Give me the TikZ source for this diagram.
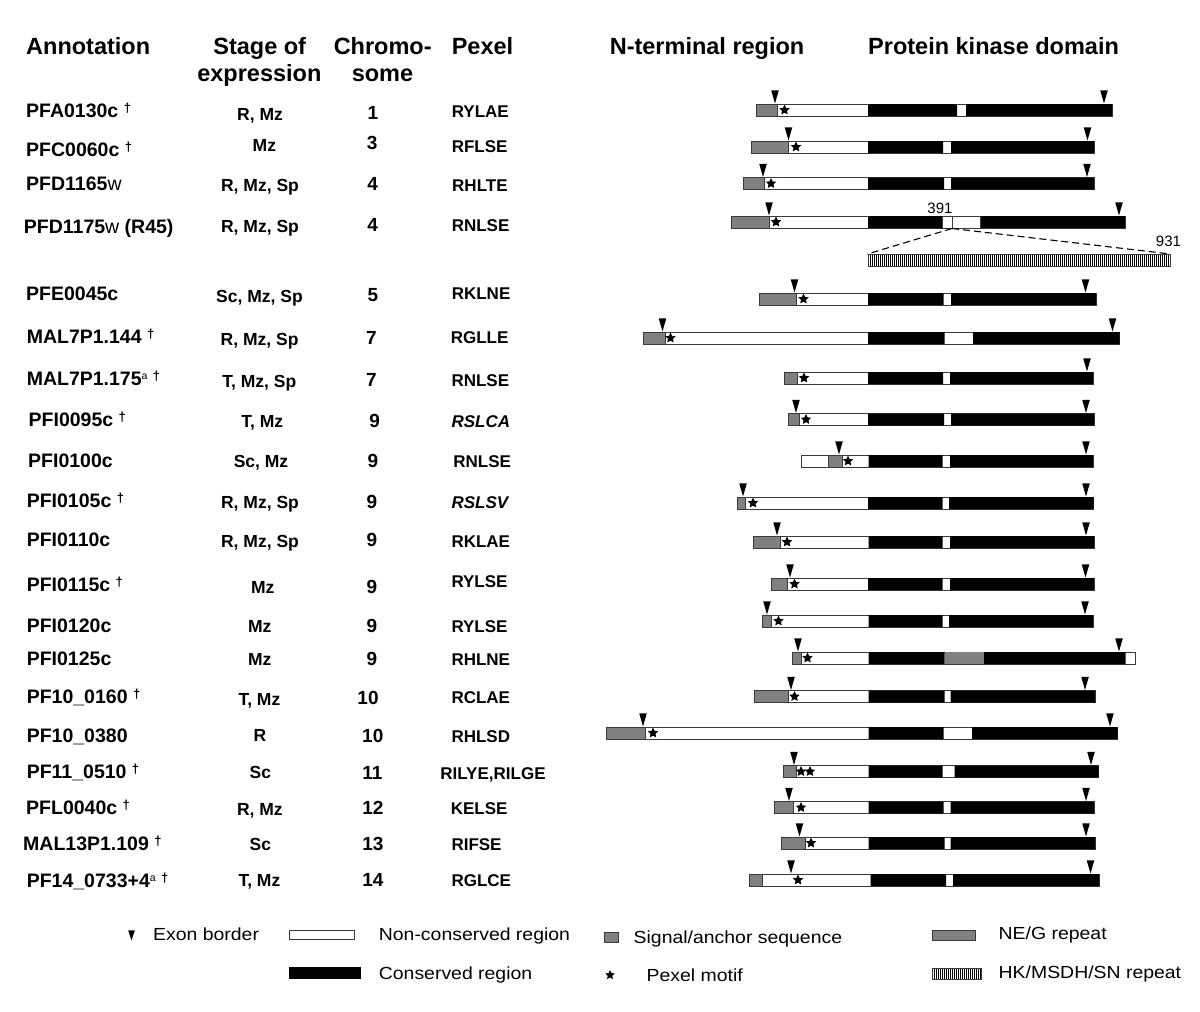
\documentclass[tikz,border=0pt]{standalone}
\usepackage{fontspec}
\setmainfont{Liberation Sans}
\newfontfamily\lgfont[FakeStretch=1.11]{Liberation Sans}
\usetikzlibrary{shapes.geometric,patterns.meta}
\definecolor{SigGray}{HTML}{808080}
\definecolor{EdgeGray}{HTML}{3A3A3A}
\newcommand{\dagmark}{\raisebox{5pt}{\fontsize{13}{13}\selectfont\textdagger}}
\newcommand{\supa}{\raisebox{6pt}{\fontsize{10.5}{11}\selectfont\mdseries a}}

\begin{document}
\begin{tikzpicture}[x=1pt, y=-1pt,
        hdr/.style={inner sep=0pt, anchor=base west, font=\bfseries\fontsize{23.5}{27}\selectfont},
        ann/.style={inner sep=0pt, anchor=base west, font=\bfseries\fontsize{19.5}{21}\selectfont},
        stg/.style={inner sep=0pt, anchor=base, font=\bfseries\fontsize{17.5}{19}\selectfont},
        chr/.style={inner sep=0pt, anchor=base, font=\bfseries\fontsize{19}{21}\selectfont},
        pex/.style={inner sep=0pt, anchor=base west, font=\bfseries\fontsize{17}{19}\selectfont},
        lgd/.style={inner sep=0pt, anchor=base west, font=\lgfont\fontsize{17.5}{19}\selectfont},
        num/.style={inner sep=0pt, anchor=base, font=\fontsize{15}{16}\selectfont},
        bar/.style={draw=EdgeGray, line width=1pt, fill=white},
        sig/.style={draw=EdgeGray, line width=1pt, fill=SigGray},
        neg/.style={fill=SigGray},
        hk/.style={draw=EdgeGray, line width=1pt, pattern={Lines[angle=90,distance=2pt,line width=1pt]}},
        exon/.style={isosceles triangle, isosceles triangle stretches, shape border rotate=-90,
            minimum width=7.5pt, minimum height=13pt, inner sep=0pt, fill=black, anchor=apex},
        motif/.style={star, star points=5, star point ratio=2.1, minimum size=11pt, inner sep=0pt, fill=black}]
        \path[fill=white, use as bounding box] (0,0) rectangle (1200,1012);

        \node[hdr] (hAnn) at (26,54.5) {Annotation};
        \node[hdr, anchor=base] (hStg) at (259.7,54.5) {Stage of};
        \node[hdr, anchor=base] (hStg2) at (259.4,81.5) {expression};
        \node[hdr, anchor=base] (hChr) at (382.7,54.5) {Chromo-};
        \node[hdr, anchor=base] (hChr2) at (382.5,81.5) {some};
        \node[hdr] (hPex) at (451.6,54.5) {Pexel};
        \node[hdr] (hNt) at (609.6,54.5) {N-terminal region};
        \node[hdr] (hPk) at (868,54.5) {Protein kinase domain};

        \node[ann] (an1) at (26,117.3) {PFA0130c \dagmark};
        \node[ann] (an2) at (26,156) {PFC0060c \dagmark};
        \node[ann] (an3) at (26,190.7) {PFD1165{\mdseries w}};
        \node[ann] (an4) at (23.7,233) {PFD1175{\mdseries w} (R45)};
        \node[ann] (an5) at (26,300.3) {PFE0045c};
        \node[ann] (an6) at (26.6,343.7) {MAL7P1.144 \dagmark};
        \node[ann] (an7) at (26.6,385.5) {MAL7P1.175\supa{} \dagmark};
        \node[ann] (an8) at (28.5,426.5) {PFI0095c \dagmark};
        \node[ann] (an9) at (28,467) {PFI0100c};
        \node[ann] (an10) at (26.6,507.5) {PFI0105c \dagmark};
        \node[ann] (an11) at (26.6,546.7) {PFI0110c};
        \node[ann] (an12) at (26.6,591) {PFI0115c \dagmark};
        \node[ann] (an13) at (26.6,632) {PFI0120c};
        \node[ann] (an14) at (26.6,665.7) {PFI0125c};
        \node[ann] (an15) at (26.6,703.7) {PF10\_0160 \dagmark};
        \node[ann] (an16) at (26.6,742.5) {PF10\_0380};
        \node[ann] (an17) at (26.6,778.7) {PF11\_0510 \dagmark};
        \node[ann] (an18) at (26,814) {PFL0040c \dagmark};
        \node[ann] (an19) at (23,850.3) {MAL13P1.109 \dagmark};
        \node[ann] (an20) at (26.6,887) {PF14\_0733+4\supa{} \dagmark};

        \node[stg] (st1) at (260,120) {R, Mz};
        \node[stg] (st2) at (264.4,151.3) {Mz};
        \node[stg] (st3) at (260,191.8) {R, Mz, Sp};
        \node[stg] (st4) at (260,232) {R, Mz, Sp};
        \node[stg] (st5) at (259.5,302.3) {Sc, Mz, Sp};
        \node[stg] (st6) at (259.6,345.3) {R, Mz, Sp};
        \node[stg] (st7) at (259.4,387) {T, Mz, Sp};
        \node[stg] (st8) at (262.3,427.6) {T, Mz};
        \node[stg] (st9) at (261,467.6) {Sc, Mz};
        \node[stg] (st10) at (260,508.8) {R, Mz, Sp};
        \node[stg] (st11) at (260,547.8) {R, Mz, Sp};
        \node[stg] (st12) at (262.7,593.3) {Mz};
        \node[stg] (st13) at (259.7,632.3) {Mz};
        \node[stg] (st14) at (259.7,665.8) {Mz};
        \node[stg] (st15) at (259.4,705) {T, Mz};
        \node[stg] (st16) at (260,741.8) {R};
        \node[stg] (st17) at (260.3,778.6) {Sc};
        \node[stg] (st18) at (259.9,815) {R, Mz};
        \node[stg] (st19) at (260.3,850.3) {Sc};
        \node[stg] (st20) at (259.4,886.8) {T, Mz};

        \node[chr] (ch1) at (373,119) {1};
        \node[chr] (ch2) at (372.2,149.8) {3};
        \node[chr] (ch3) at (372.7,190.7) {4};
        \node[chr] (ch4) at (372.7,231.8) {4};
        \node[chr] (ch5) at (372.8,301) {5};
        \node[chr] (ch6) at (371.4,344.5) {7};
        \node[chr] (ch7) at (371.4,386.7) {7};
        \node[chr] (ch8) at (374.6,427.3) {9};
        \node[chr] (ch9) at (373,467) {9};
        \node[chr] (ch10) at (371.9,508.3) {9};
        \node[chr] (ch11) at (371.9,546.7) {9};
        \node[chr] (ch12) at (371.9,593.3) {9};
        \node[chr] (ch13) at (371.9,632.3) {9};
        \node[chr] (ch14) at (371.9,665.7) {9};
        \node[chr] (ch15) at (368,704.8) {10};
        \node[chr] (ch16) at (372.8,742.5) {10};
        \node[chr] (ch17) at (372.5,779) {11};
        \node[chr] (ch18) at (372.9,814.8) {12};
        \node[chr] (ch19) at (372.9,850.7) {13};
        \node[chr] (ch20) at (372.9,886.7) {14};

        \node[pex] (px1) at (451.6,117.3) {RYLAE};
        \node[pex] (px2) at (451.6,152) {RFLSE};
        \node[pex] (px3) at (452,191.3) {RHLTE};
        \node[pex] (px4) at (451.6,231) {RNLSE};
        \node[pex] (px5) at (451.6,299.6) {RKLNE};
        \node[pex] (px6) at (450.6,343.8) {RGLLE};
        \node[pex] (px7) at (451.3,386.6) {RNLSE};
        \node[pex] (px8) at (451.3,427.6) {\itshape RSLCA};
        \node[pex] (px9) at (453.2,467.6) {RNLSE};
        \node[pex] (px10) at (451.3,508.3) {\itshape RSLSV};
        \node[pex] (px11) at (451.3,547) {RKLAE};
        \node[pex] (px12) at (451.3,587) {RYLSE};
        \node[pex] (px13) at (451.3,632.3) {RYLSE};
        \node[pex] (px14) at (451.3,665.3) {RHLNE};
        \node[pex] (px15) at (451.3,703.6) {RCLAE};
        \node[pex] (px16) at (451.3,742) {RHLSD};
        \node[pex] (px17) at (440.2,779) {RILYE,RILGE};
        \node[pex] (px18) at (450.6,814.6) {KELSE};
        \node[pex] (px19) at (451.3,850.3) {RIFSE};
        \node[pex] (px20) at (451.3,886.8) {RGLCE};

        \draw[bar] (756,104) rectangle (1112,116);
        \draw[sig] (756,104) rectangle (777.5,116);
        \fill (868,104) rectangle (957,116) (966,104) rectangle (1112,116);
        \node[exon] (x1a) at (775,104) {}; \node[exon] (x1b) at (1104,104) {};
        \node[motif] (m1) at (784.5,110) {};

        \draw[bar] (751,141) rectangle (1094,153);
        \draw[sig] (751,141) rectangle (788.5,153);
        \fill (868,141) rectangle (943,153) (951,141) rectangle (1094,153);
        \node[exon] (x2a) at (788.5,141) {}; \node[exon] (x2b) at (1087.5,141) {};
        \node[motif] (m2) at (796,147) {};

        \draw[bar] (743,177.5) rectangle (1094,189.5);
        \draw[sig] (743,177.5) rectangle (764,189.5);
        \fill (868,177.5) rectangle (944,189.5) (951,177.5) rectangle (1094,189.5);
        \node[exon] (x3a) at (763,177.5) {}; \node[exon] (x3b) at (1087,177.5) {};
        \node[motif] (m3) at (771,183.5) {};

        \draw[bar] (731,216) rectangle (1125,228);
        \draw[sig] (731,216) rectangle (769,228);
        \fill (868,216) rectangle (942,228) (980,216) rectangle (1125,228);
        \draw[bar] (942,216) rectangle (952,228) (952.5,216) rectangle (980,228);
        \node[exon] (x4a) at (769,216) {}; \node[exon] (x4b) at (1119,216) {};
        \node[motif] (m4) at (776,222) {};
        \node[num] (n391) at (940,213.5) {391};
        \coordinate (cut) at (952,228.5);
        \node[hk, minimum width=302pt, minimum height=12pt, inner sep=0pt] (hkbar) at (1019,260.5) {};
        \node[num] (n931) at (1168.5,246.7) {931};
        \draw[line width=1.1pt, dash pattern=on 7pt off 4pt] (cut) -- (hkbar.north west);
        \draw[line width=1.1pt, dash pattern=on 7pt off 4pt] (cut) -- (hkbar.north east);

        \draw[bar] (759,293) rectangle (1096,305);
        \draw[sig] (759,293) rectangle (796,305);
        \fill (868,293) rectangle (943.5,305) (951,293) rectangle (1096,305);
        \node[exon] (x5a) at (794.5,293) {}; \node[exon] (x5b) at (1085.5,293) {};
        \node[motif] (m5) at (803.5,299) {};

        \draw[bar] (643.5,332) rectangle (1119.5,344);
        \draw[sig] (643.5,332) rectangle (665,344);
        \fill (868,332) rectangle (944.5,344) (973,332) rectangle (1119.5,344);
        \node[exon] (x6a) at (662.5,332) {}; \node[exon] (x6b) at (1112.5,332) {};
        \node[motif] (m6) at (670.5,338) {};

        \draw[bar] (784.5,372) rectangle (1093,384);
        \draw[sig] (784.5,372) rectangle (797,384);
        \fill (868,372) rectangle (943,384) (950,372) rectangle (1093,384);
        \node[exon] (x7b) at (1087,372) {};
        \node[motif] (m7) at (804,378) {};

        \draw[bar] (788.5,413.5) rectangle (1094,425.5);
        \draw[sig] (788.5,413.5) rectangle (799,425.5);
        \fill (868,413.5) rectangle (944,425.5) (951,413.5) rectangle (1094,425.5);
        \node[exon] (x8a) at (796,413.5) {}; \node[exon] (x8b) at (1086,413.5) {};
        \node[motif] (m8) at (806,419.5) {};

        \draw[bar] (801,455) rectangle (1093,467);
        \draw[sig] (828,455) rectangle (842,467);
        \fill (868.5,455) rectangle (942.5,467) (950,455) rectangle (1093,467);
        \node[exon] (x9a) at (839,455) {}; \node[exon] (x9b) at (1086,455) {};
        \node[motif] (m9) at (848,461) {};

        \draw[bar] (737,497) rectangle (1093.5,509);
        \draw[sig] (737,497) rectangle (745.5,509);
        \fill (868,497) rectangle (942.5,509) (949,497) rectangle (1093.5,509);
        \node[exon] (x10a) at (743,497) {}; \node[exon] (x10b) at (1086,497) {};
        \node[motif] (m10) at (753,503) {};

        \draw[bar] (753,536) rectangle (1094,548);
        \draw[sig] (753,536) rectangle (780,548);
        \fill (868.5,536) rectangle (942.5,548) (950,536) rectangle (1094,548);
        \node[exon] (x11a) at (777,536) {}; \node[exon] (x11b) at (1086,536) {};
        \node[motif] (m11) at (787,542) {};

        \draw[bar] (771,578) rectangle (1094,590);
        \draw[sig] (771,578) rectangle (787,590);
        \fill (868,578) rectangle (942.5,590) (950,578) rectangle (1094,590);
        \node[exon] (x12a) at (790,578) {}; \node[exon] (x12b) at (1085.5,578) {};
        \node[motif] (m12) at (794.5,584) {};

        \draw[bar] (762,615) rectangle (1093,627);
        \draw[sig] (762,615) rectangle (771.5,627);
        \fill (868.5,615) rectangle (942.5,627) (949,615) rectangle (1093,627);
        \node[exon] (x13a) at (767,615) {}; \node[exon] (x13b) at (1085,615) {};
        \node[motif] (m13) at (778.5,621) {};

        \draw[bar] (792,652) rectangle (1135.5,664);
        \draw[sig] (792,652) rectangle (801,664);
        \fill (868.5,652) rectangle (944.5,664) (984,652) rectangle (1125.5,664);
        \fill[neg] (944.5,652) rectangle (984,664);
        \node[exon] (x14a) at (798,652) {}; \node[exon] (x14b) at (1119,652) {};
        \node[motif] (m14) at (807.5,658) {};

        \draw[bar] (754.5,690.5) rectangle (1095,702.5);
        \draw[sig] (754.5,690.5) rectangle (788,702.5);
        \fill (868.5,690.5) rectangle (944.5,702.5) (950.5,690.5) rectangle (1095,702.5);
        \node[exon] (x15a) at (791,690.5) {}; \node[exon] (x15b) at (1085,690.5) {};
        \node[motif] (m15) at (794.5,696.5) {};

        \draw[bar] (606,727) rectangle (1117.5,739);
        \draw[sig] (606,727) rectangle (645.5,739);
        \fill (868.5,727) rectangle (943.5,739) (972,727) rectangle (1117.5,739);
        \node[exon] (x16a) at (643,727) {}; \node[exon] (x16b) at (1110,727) {};
        \node[motif] (m16) at (653,733) {};

        \draw[bar] (783.5,765.5) rectangle (1098.5,777.5);
        \draw[sig] (783.5,765.5) rectangle (796.5,777.5);
        \fill (868.5,765.5) rectangle (942.5,777.5) (954.5,765.5) rectangle (1098.5,777.5);
        \node[exon] (x17a) at (794,765.5) {}; \node[exon] (x17b) at (1091,765.5) {};
        \node[motif] (m17a) at (801,771.5) {}; \node[motif] (m17b) at (810,771.5) {};

        \draw[bar] (774,801.5) rectangle (1094,813.5);
        \draw[sig] (774,801.5) rectangle (793,813.5);
        \fill (868.5,801.5) rectangle (943.5,813.5) (950.5,801.5) rectangle (1094,813.5);
        \node[exon] (x18a) at (789,801.5) {}; \node[exon] (x18b) at (1086,801.5) {};
        \node[motif] (m18) at (801,807.5) {};

        \draw[bar] (781.5,837) rectangle (1095,849);
        \draw[sig] (781.5,837) rectangle (805,849);
        \fill (868.5,837) rectangle (944.5,849) (950.5,837) rectangle (1095,849);
        \node[exon] (x19a) at (799.5,837) {}; \node[exon] (x19b) at (1086,837) {};
        \node[motif] (m19) at (811,843) {};

        \draw[bar] (749.5,874) rectangle (1099,886);
        \draw[sig] (749.5,874) rectangle (762.5,886);
        \fill (870.5,874) rectangle (946,886) (953,874) rectangle (1099,886);
        \node[exon] (x20a) at (791,874) {}; \node[exon] (x20b) at (1090.5,874) {};
        \node[motif] (m20) at (798,880) {};

        \node[exon, minimum height=10pt, minimum width=6.5pt] (lgEx) at (131.5,941) {};
        \node[lgd] (lgExT) at (153,940.5) {Exon border};
        \draw[bar] (289,930.7) rectangle (354,939.3);
        \node[lgd] (lgNcT) at (378.7,940) {Non-conserved region};
        \draw[sig] (604.5,932) rectangle (618,942.5);
        \node[lgd] (lgSigT) at (633.5,943) {Signal/anchor sequence};
        \draw[sig] (932,930) rectangle (975.5,940);
        \node[lgd] (lgNegT) at (998.5,939) {NE/G repeat};
        \fill (289,967) rectangle (361,979);
        \node[lgd] (lgConT) at (378.7,979) {Conserved region};
        \node[motif, minimum size=10pt] (lgMo) at (610,975) {};
        \node[lgd] (lgMoT) at (646.5,981) {Pexel motif};
        \draw[hk] (932,968) rectangle (981,979);
        \node[lgd] (lgHkT) at (998.5,978) {HK/MSDH/SN repeat};
    \end{tikzpicture}
\end{document}
